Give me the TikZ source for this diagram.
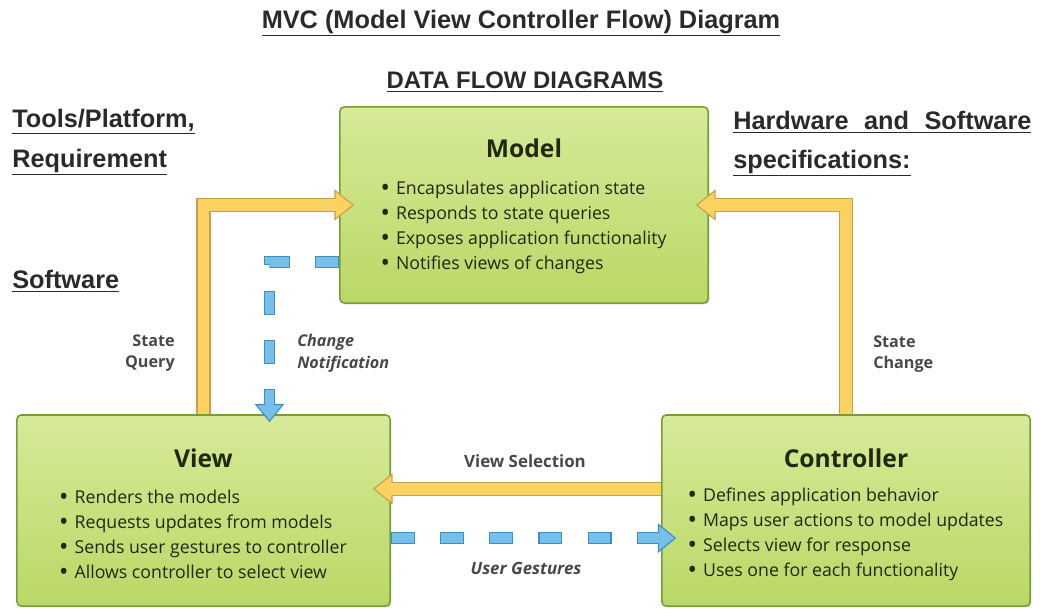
\documentclass[tikz,border=0pt]{standalone}
\usepackage{fontspec}
\setmainfont{Open Sans}
\newfontfamily\headfamily{Liberation Sans}
\usetikzlibrary{%
	arrows.meta,%
	shadows%
}
\definecolor{boxtop}{RGB}{214,234,152}
\definecolor{boxbot}{RGB}{186,216,102}
\definecolor{boxedge}{RGB}{118,158,55}
\definecolor{boxtext}{RGB}{34,40,18}
\definecolor{arrowfill}{RGB}{250,210,98}
\definecolor{arrowedge}{RGB}{200,160,70}
\definecolor{bluefill}{RGB}{118,192,236}
\definecolor{blueedge}{RGB}{66,140,196}
\definecolor{headgray}{RGB}{42,42,42}
\definecolor{labelgray}{RGB}{72,72,72}
\newcommand{\itm}{{\bfseries\fontsize{14}{14}\selectfont\textbullet}\hspace{0.4em}}

\begin{document}
\begin{tikzpicture}[x=0.025cm,y=-0.025cm,
		heading/.style={inner sep=0pt,text=headgray,font=\headfamily\bfseries\fontsize{18}{21}\selectfont},
		mvcbox/.style={draw=boxedge,line width=1.1pt,rounded corners=3pt,top color=boxtop,bottom color=boxbot,
			drop shadow={shadow xshift=1pt,shadow yshift=-1pt,opacity=0.35}},
		boxtitle/.style={inner sep=0pt,text=boxtext,font=\bfseries\fontsize{17.5}{20}\selectfont},
		boxlist/.style={inner sep=0pt,align=left,text=boxtext,font=\fontsize{12.6}{17.8}\selectfont},
		flowlabel/.style={inner sep=0pt,text=labelgray,font=\bfseries\fontsize{11.5}{15.5}\selectfont},
		yarrow/.style={draw=arrowedge,line width=10pt,
			-{Triangle[length=14pt,width=22pt,fill=arrowfill,line width=0.8pt]},
			postaction={draw=arrowfill,line width=8pt,-,shorten >=13pt}},
		barrow/.style={draw=blueedge,line width=8.5pt,dash pattern=on 17pt off 18pt,
			-{Triangle[length=13pt,width=21pt,fill=bluefill,line width=0.8pt]},
			postaction={draw=bluefill,line width=6.8pt,-,dash pattern=on 15.4pt off 19.6pt,dash phase=34.2pt,shorten >=12pt}}
	]
	\useasboundingbox (0,0) rectangle (1040,610);

	% Headings
	\node[heading] (title) at (521,23) {\underline{MVC (Model View Controller Flow) Diagram}};
	\node[heading,font=\headfamily\bfseries\fontsize{17}{20}\selectfont] (dfd) at (525,82) {\underline{DATA FLOW DIAGRAMS}};
	\node[heading,anchor=west] (tools) at (12,122) {\underline{Tools/Platform,}};
	\node[heading,anchor=west] (req) at (12,162) {\underline{Requirement}};
	\node[heading,anchor=west] (soft) at (12,281) {\underline{Software}};
	\node[heading,anchor=west] (hw) at (733,122) {\underline{Hardware\hspace{6pt} and\hspace{6pt} Software}};
	\node[heading,anchor=west] (spec) at (733,163) {\underline{specifications:}};

	% Boxes
	\node[mvcbox,minimum width=9.2cm,minimum height=4.9cm] (model) at (524,205) {};
	\node[mvcbox,minimum width=9.325cm,minimum height=4.775cm] (view) at (203.5,510.5) {};
	\node[mvcbox,minimum width=9.2cm,minimum height=4.775cm] (controller) at (846,510.5) {};

	\node[boxtitle] (modelTitle) at ([yshift=-1.05cm]model.north) {Model};
	\node[boxlist] (modelList) at ([yshift=-0.57cm]model.center) {%
		\itm Encapsulates application state\\
		\itm Responds to state queries\\
		\itm Exposes application functionality\\
		\itm Notifies views of changes};
	\node[boxtitle] (viewTitle) at ([yshift=-1.1cm]view.north) {View};
	\node[boxlist] (viewList) at ([yshift=-0.6cm]view.center) {%
		\itm Renders the models\\
		\itm Requests updates from models\\
		\itm Sends user gestures to controller\\
		\itm Allows controller to select view};
	\node[boxtitle] (controllerTitle) at ([yshift=-1.1cm]controller.north) {Controller};
	\node[boxlist] (controllerList) at ([yshift=-0.6cm]controller.center) {%
		\itm Defines application behavior\\
		\itm Maps user actions to model updates\\
		\itm Selects view for response\\
		\itm Uses one for each functionality};

	% Yellow arrows
	\draw[yarrow] (view.north) |- ([xshift=0.375cm]model.west);
	\draw[yarrow] (controller.north) |- ([xshift=-0.325cm]model.east);
	\draw[yarrow] ([yshift=0.54cm]controller.west) -- ([xshift=-0.45cm,yshift=0.54cm]view.east);

	% Blue dashed arrows
	\draw[barrow] ([yshift=-1.425cm]model.west) -| ([xshift=1.65cm,yshift=-0.2cm]view.north);
	\draw[barrow] ([yshift=-0.69cm]view.east) -- ([xshift=0.375cm,yshift=-0.69cm]controller.west);

	% Labels
	\node[flowlabel,anchor=east,align=right] (query) at (175,353) {State\\Query};
	\node[flowlabel,anchor=west,align=left] (change) at (873,354) {State\\Change};
	\node[flowlabel,anchor=west,align=left,font=\bfseries\itshape\fontsize{11.5}{15.5}\selectfont] (notify) at (297,353) {Change\\Notification};
	\node[flowlabel,font=\bfseries\fontsize{12}{15}\selectfont] (select) at (525,461) {View Selection};
	\node[flowlabel,font=\bfseries\itshape\fontsize{12}{15}\selectfont] (gesture) at (526,568) {User Gestures};
\end{tikzpicture}
\end{document}
